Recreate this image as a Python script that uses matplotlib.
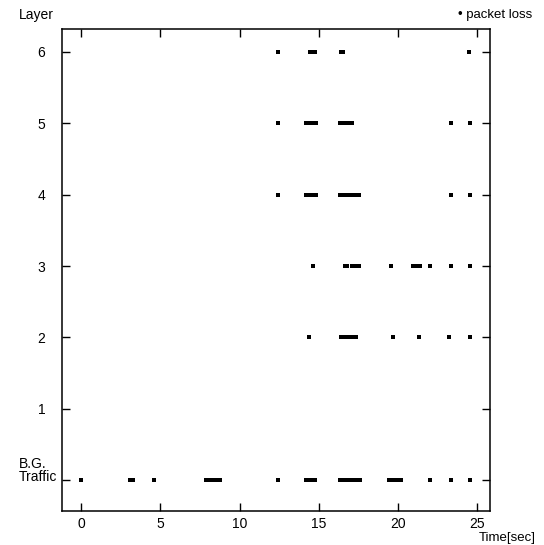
import matplotlib
matplotlib.use("Agg")
import matplotlib.pyplot as plt

plt.rcParams['font.family'] = ['Liberation Sans', 'DejaVu Sans']

# packet loss times (sec) per layer
bg_times = [0.0, 3.1, 3.3, 4.6, 7.9, 8.05, 8.2, 8.35, 8.5, 8.65, 8.75, 12.45,
            14.2, 14.35, 14.5, 14.65, 14.75, 16.3, 16.45, 16.6, 16.75, 16.9, 17.05,
            17.2, 17.35, 17.5, 17.6, 19.4, 19.55, 19.7, 19.85, 20.0, 20.15,
            22.0, 23.3, 24.55]
layer2_times = [14.4, 16.4, 16.55, 16.7, 16.85, 17.0, 17.15, 17.35, 19.66, 21.34, 23.2, 24.5]
layer3_times = [14.62, 16.65, 16.8, 17.1, 17.25, 17.5, 19.54, 20.95, 21.1, 21.35, 22.0, 23.3, 24.5]
layer4_times = [12.45, 14.2, 14.35, 14.5, 14.65, 14.8, 16.35, 16.5, 16.65, 16.8, 16.95,
                17.1, 17.25, 17.4, 17.5, 23.3, 24.5]
layer5_times = [12.45, 14.2, 14.35, 14.5, 14.65, 14.8, 16.3, 16.45, 16.6, 16.75, 16.9,
                17.0, 17.1, 23.3, 24.5]
layer6_times = [12.45, 14.45, 14.6, 14.75, 16.4, 16.5, 24.45]

layers = [0, 2, 3, 4, 5, 6]
series = [bg_times, layer2_times, layer3_times, layer4_times, layer5_times, layer6_times]

ytick_vals = [0, 1, 2, 3, 4, 5, 6]
ytick_labels = ['', '1', '2', '3', '4', '5', '6']
bg_label = 'B.G.\nTraffic'
xtick_vals = [0, 5, 10, 15, 20, 25]

fig = plt.figure(figsize=(5.44, 5.45), dpi=100)
ax = fig.add_axes([0.114, 0.0624, 0.787, 0.8844])

for lay, times in zip(layers, series):
    ax.plot(times, [lay] * len(times), linestyle='none', marker='s',
            markersize=2.6, color='black', markeredgewidth=0)

ax.set_xlim(-1.2, 25.8)
ax.set_ylim(-0.43, 6.32)
ax.set_xticks(xtick_vals)
ax.set_yticks(ytick_vals)
ax.set_yticklabels(ytick_labels)
ax.tick_params(direction='in', length=6, width=1, top=True, right=True, labelsize=10)
ax.tick_params(axis='x', pad=4)
ax.tick_params(axis='y', pad=12)
for s in ax.spines.values():
    s.set_linewidth(1.1)

# background traffic label, left aligned like the original
ax.text(-0.1, 0.14, bg_label, transform=ax.get_yaxis_transform(), fontsize=10,
        ha='left', va='center', linespacing=0.95)

fig.text(0.035, 0.972, 'Layer', fontsize=10, ha='left', va='center')
fig.text(0.978, 0.972, '\u2022 packet loss', fontsize=9.5, ha='right', va='center')
fig.text(0.985, 0.013, 'Time[sec]', fontsize=9.5, ha='right', va='center')

fig.savefig('out.png', dpi=100)
